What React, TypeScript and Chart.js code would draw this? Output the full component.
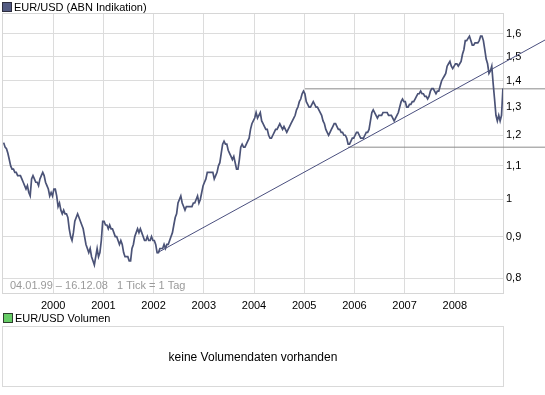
import React, { useEffect, useRef } from "react";
import { Chart, registerables } from "chart.js";

Chart.register(...registerables);

// EUR/USD, roughly three readings per month (1st, 2nd, 3rd decade)
const eur1999 = [1.175, 1.16, 1.155, 1.14, 1.12, 1.10, 1.09, 1.09, 1.08, 1.08, 1.07, 1.07, 1.07, 1.06, 1.05, 1.04, 1.03, 1.04, 1.02, 1.01, 1.06, 1.07, 1.06, 1.05, 1.05, 1.04, 1.06, 1.07, 1.08, 1.07, 1.05, 1.04, 1.03, 1.01, 1.02, 1.01];
const eur2000 = [1.03, 1.03, 1.01, 0.98, 0.99, 0.97, 0.96, 0.97, 0.96, 0.96, 0.95, 0.92, 0.90, 0.89, 0.91, 0.94, 0.95, 0.96, 0.95, 0.94, 0.93, 0.92, 0.90, 0.88, 0.87, 0.86, 0.87, 0.85, 0.84, 0.83, 0.85, 0.87, 0.85, 0.86, 0.89, 0.94];
const eur2001 = [0.94, 0.93, 0.93, 0.92, 0.93, 0.92, 0.92, 0.91, 0.90, 0.90, 0.89, 0.88, 0.89, 0.88, 0.86, 0.85, 0.85, 0.85, 0.84, 0.84, 0.87, 0.88, 0.90, 0.91, 0.92, 0.91, 0.92, 0.91, 0.90, 0.89, 0.89, 0.90, 0.89, 0.89, 0.90, 0.89];
const eur2002 = [0.89, 0.88, 0.86, 0.86, 0.87, 0.87, 0.87, 0.88, 0.87, 0.88, 0.88, 0.89, 0.90, 0.91, 0.93, 0.95, 0.96, 0.99, 1.00, 1.01, 0.99, 0.98, 0.97, 0.98, 0.98, 0.98, 0.98, 0.98, 0.99, 0.99, 1.00, 1.01, 0.99, 1.00, 1.02, 1.04];
const eur2003 = [1.05, 1.06, 1.08, 1.08, 1.08, 1.08, 1.08, 1.06, 1.07, 1.08, 1.10, 1.11, 1.14, 1.17, 1.18, 1.17, 1.17, 1.15, 1.14, 1.13, 1.12, 1.13, 1.11, 1.09, 1.09, 1.12, 1.16, 1.17, 1.16, 1.16, 1.17, 1.18, 1.19, 1.22, 1.24, 1.25];
const eur2004 = [1.26, 1.28, 1.26, 1.27, 1.28, 1.25, 1.24, 1.23, 1.22, 1.22, 1.20, 1.19, 1.19, 1.20, 1.21, 1.22, 1.22, 1.23, 1.24, 1.23, 1.22, 1.23, 1.22, 1.21, 1.22, 1.23, 1.24, 1.25, 1.26, 1.27, 1.29, 1.30, 1.32, 1.33, 1.35, 1.36];
const eur2005 = [1.35, 1.32, 1.31, 1.30, 1.30, 1.31, 1.32, 1.31, 1.30, 1.30, 1.29, 1.28, 1.27, 1.25, 1.24, 1.22, 1.21, 1.20, 1.21, 1.22, 1.23, 1.24, 1.24, 1.23, 1.22, 1.22, 1.21, 1.21, 1.20, 1.20, 1.19, 1.17, 1.17, 1.18, 1.19, 1.19];
const eur2006 = [1.20, 1.21, 1.21, 1.20, 1.19, 1.19, 1.19, 1.20, 1.21, 1.21, 1.22, 1.25, 1.28, 1.29, 1.28, 1.27, 1.26, 1.27, 1.27, 1.27, 1.28, 1.28, 1.28, 1.28, 1.27, 1.27, 1.27, 1.26, 1.25, 1.26, 1.27, 1.28, 1.30, 1.32, 1.33, 1.32];
const eur2007 = [1.32, 1.30, 1.30, 1.31, 1.31, 1.32, 1.32, 1.33, 1.34, 1.35, 1.35, 1.36, 1.35, 1.35, 1.34, 1.34, 1.33, 1.34, 1.36, 1.37, 1.37, 1.36, 1.35, 1.36, 1.36, 1.38, 1.40, 1.41, 1.42, 1.43, 1.46, 1.47, 1.48, 1.46, 1.45, 1.46];
const eur2008 = [1.47, 1.47, 1.46, 1.47, 1.48, 1.51, 1.53, 1.57, 1.57, 1.58, 1.59, 1.57, 1.55, 1.55, 1.56, 1.56, 1.56, 1.57, 1.59, 1.59, 1.57, 1.53, 1.49, 1.47, 1.43, 1.44, 1.46, 1.39, 1.33, 1.27, 1.25, 1.27, 1.25, 1.27, 1.37];

const seriesByYear = [eur1999, eur2000, eur2001, eur2002, eur2003, eur2004, eur2005, eur2006, eur2007, eur2008];
const firstYear = 1999;
const samplesPerYear = 36;

const xMin = 1999.0;
const xMax = 2008.96;
const yMin = 0.7667;
const yMax = 1.698;

const yearTicks = [2000, 2001, 2002, 2003, 2004, 2005, 2006, 2007, 2008];
const priceTicks = [0.8, 0.9, 1, 1.1, 1.2, 1.3, 1.4, 1.5, 1.6];

// drawn lines (decimal year, price)
const trendLine = [{ x: 2002.068, y: 0.859 }, { x: 2009.8, y: 1.573 }];
const resistanceLine = [{ x: 2005.016, y: 1.369 }, { x: 2009.8, y: 1.369 }];
const supportLine = [{ x: 2005.873, y: 1.16 }, { x: 2009.8, y: 1.16 }];

const titleLabel = "EUR/USD (ABN Indikation)";
const rangeLabel = "04.01.99 \u2013 16.12.08   1 Tick = 1 Tag";
const volumeLabel = "EUR/USD Volumen";
const volumeEmpty = "keine Volumendaten vorhanden";

const FONT = '"Liberation Sans", Arial, sans-serif';

function buildPoints() {
  const pts: { x: number; y: number }[] = [];
  seriesByYear.forEach((arr, yi) =>
    arr.forEach((v, i) => pts.push({ x: firstYear + yi + (i + 0.5) / samplesPerYear, y: v }))
  );
  return pts;
}

const framePlugin = {
  id: "frame",
  beforeDatasetsDraw(chart: any) {
    const { ctx, chartArea: a } = chart;
    ctx.save();
    ctx.strokeStyle = "#d6d6d6";
    ctx.lineWidth = 1;
    ctx.strokeRect(a.left - 0.5, a.top + 0.5, a.right - a.left + 1, a.bottom - a.top);
    ctx.fillStyle = "#9a9a9a";
    ctx.font = "11px " + FONT;
    ctx.textBaseline = "middle";
    ctx.textAlign = "left";
    ctx.fillText(rangeLabel, a.left + 7, a.bottom - 7);
    ctx.restore();
  },
};

export default function App() {
  const ref = useRef<HTMLCanvasElement | null>(null);

  useEffect(() => {
    if (!ref.current) return;
    const chart = new Chart(ref.current, {
      type: "line",
      data: {
        datasets: [
          {
            data: buildPoints(),
            borderColor: "#4b5377",
            borderWidth: 1.7,
            pointRadius: 0,
            tension: 0,
            fill: false,
          },
          {
            data: trendLine,
            borderColor: "#4a4f7e",
            borderWidth: 1,
            pointRadius: 0,
            clip: false as any,
          },
          {
            data: resistanceLine,
            borderColor: "#8a8a8a",
            borderWidth: 1,
            pointRadius: 0,
            clip: false as any,
          },
          {
            data: supportLine,
            borderColor: "#8a8a8a",
            borderWidth: 1,
            pointRadius: 0,
            clip: false as any,
          },
        ],
      },
      options: {
        animation: false,
        responsive: false,
        events: [],
        layout: { padding: { left: 3, top: 13, right: 0, bottom: 80 } },
        plugins: { legend: { display: false }, tooltip: { enabled: false } },
        scales: {
          x: {
            type: "linear",
            min: xMin,
            max: xMax,
            afterBuildTicks: (s: any) => {
              s.ticks = yearTicks.map((v) => ({ value: v }));
            },
            afterFit: (s: any) => {
              s.height = 22;
            },
            grid: { color: "#dcdcdc", lineWidth: 1, drawTicks: false },
            border: { display: false },
            ticks: {
              autoSkip: false,
              maxRotation: 0,
              padding: 6,
              color: "#000",
              font: { family: FONT, size: 11 },
              callback: (v: any) => String(v),
            },
          },
          y: {
            type: "logarithmic",
            position: "right",
            min: yMin,
            max: yMax,
            afterBuildTicks: (s: any) => {
              s.ticks = priceTicks.map((v) => ({ value: v }));
            },
            afterFit: (s: any) => {
              s.width = 42;
            },
            grid: { color: "#dcdcdc", lineWidth: 1, drawTicks: false },
            border: { display: false },
            ticks: {
              padding: 3,
              color: "#000",
              font: { family: FONT, size: 11 },
              callback: (v: any) => String(Number(v)).replace(".", ","),
            },
          },
        },
      },
      plugins: [framePlugin],
    } as any);
    return () => chart.destroy();
  }, []);

  const text: React.CSSProperties = {
    position: "absolute",
    fontFamily: FONT,
    fontSize: 11,
    lineHeight: "14px",
    color: "#000",
    whiteSpace: "nowrap",
  };

  return (
    <div style={{ position: "absolute", left: 0, top: 0, width: 545, height: 395, background: "#fff", overflow: "hidden" }}>
      <canvas ref={ref} width={545} height={395} style={{ position: "absolute", left: 0, top: 0, display: "block" }} />
      <div style={{ position: "absolute", left: 2, top: 2, width: 10, height: 10, boxSizing: "border-box", background: "#535b82", border: "1px solid #2e2e3e" }} />
      <div style={{ ...text, left: 14, top: 0 }}>{titleLabel}</div>
      <div style={{ position: "absolute", left: 3, top: 313, width: 10, height: 10, boxSizing: "border-box", background: "#66cc66", border: "1px solid #2e3e2e" }} />
      <div style={{ ...text, left: 15, top: 311 }}>{volumeLabel}</div>
      <div
        style={{
          position: "absolute",
          left: 2,
          top: 326,
          width: 502,
          height: 61,
          boxSizing: "border-box",
          border: "1px solid #d9d9d9",
          display: "flex",
          alignItems: "center",
          justifyContent: "center",
          fontFamily: FONT,
          fontSize: 12,
          color: "#000",
        }}
      >
        {volumeEmpty}
      </div>
    </div>
  );
}
